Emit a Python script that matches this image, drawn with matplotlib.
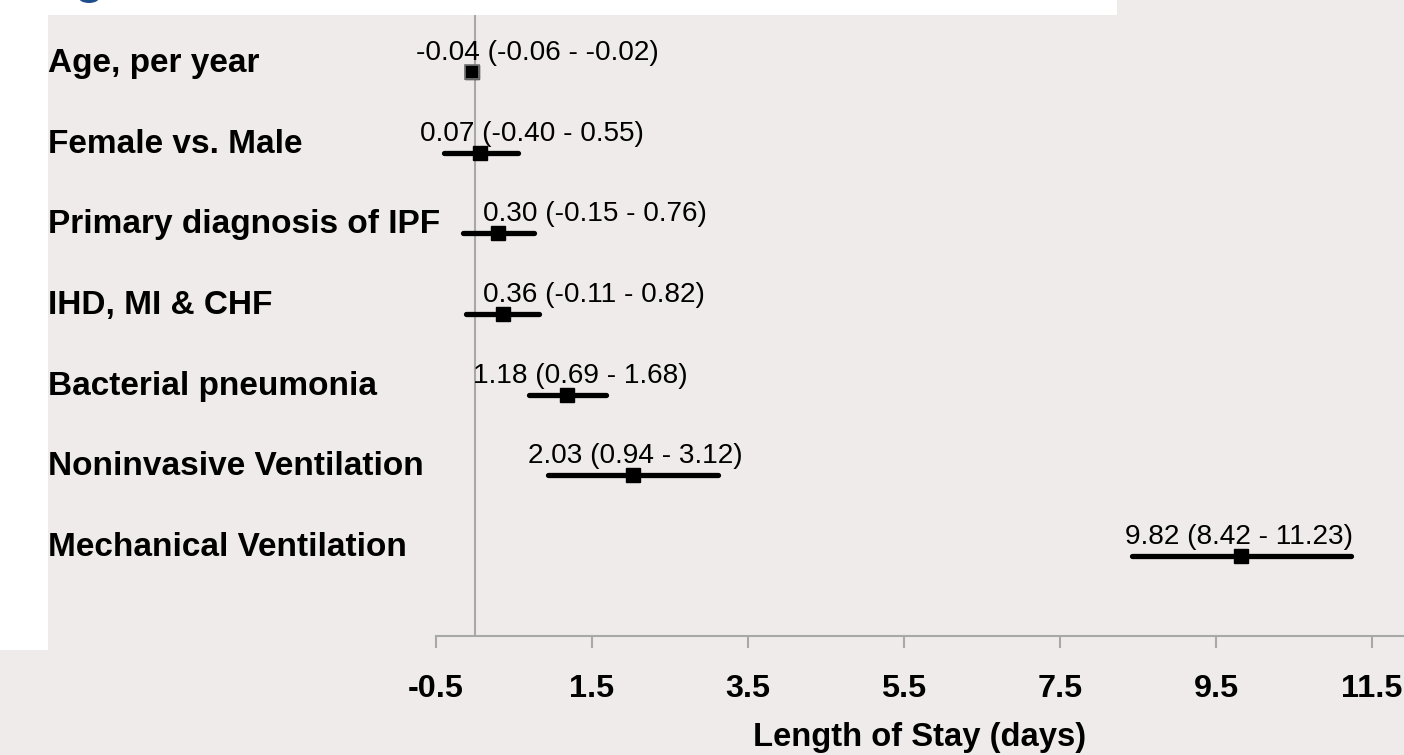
import matplotlib.pyplot as plt
from matplotlib.patches import Rectangle, Ellipse

# forest plot values: estimate with 95% CI
factors = [
    "Age, per year",
    "Female vs. Male",
    "Primary diagnosis of IPF",
    "IHD, MI & CHF",
    "Bacterial pneumonia",
    "Noninvasive Ventilation",
    "Mechanical Ventilation",
]
estimate = [-0.04, 0.07, 0.30, 0.36, 1.18, 2.03, 9.82]
ci_low = [-0.06, -0.40, -0.15, -0.11, 0.69, 0.94, 8.42]
ci_high = [-0.02, 0.55, 0.76, 0.82, 1.68, 3.12, 11.23]
x_ticks = [-0.5, 1.5, 3.5, 5.5, 7.5, 9.5, 11.5]

# where each value label starts (data units), as placed in the original
label_left = [-0.76, -0.71, 0.10, 0.10, -0.03, 0.68, 8.33]

bg = "#EFEBEA"
grey = "#A8A8A8"
font = ["Liberation Sans", "DejaVu Sans"]

W, H = 1404, 755
fig = plt.figure(figsize=(W / 100, H / 100), dpi=100, facecolor=bg)

# axes box in pixels: x-axis from 436 to right edge, baseline at y=636
ax_left, ax_right, ax_bottom = 436, 1404, 636
ax = fig.add_axes([ax_left / W, 1 - ax_bottom / H, (ax_right - ax_left) / W, ax_bottom / H])
ax.set_facecolor(bg)

px_per_unit = 78
ax.set_xlim(-0.5, -0.5 + (ax_right - ax_left) / px_per_unit)
row_step = 80.67
ax.set_ylim((ax_bottom - 72) / row_step, -72 / row_step)

rows = list(range(len(factors)))

ax.axvline(0, color=grey, lw=1.5, zorder=1)

for i in rows:
    ax.plot([ci_low[i], ci_high[i]], [i, i], color="black", lw=3.8,
            solid_capstyle="round", zorder=2)
ax.plot(estimate, rows, "s", color="black", markersize=10.5, zorder=3)
ax.plot(estimate[0], 0, "s", color="black", markersize=10.5,
        markeredgecolor="#777777", markeredgewidth=1.2, zorder=3)

for i in rows:
    txt = f"{estimate[i]:.2f} ({ci_low[i]:.2f} - {ci_high[i]:.2f})"
    ax.annotate(txt, xy=(label_left[i], i), xytext=(0, 8.6), textcoords="offset points",
                ha="left", va="baseline", fontsize=20.2, family=font,
                color="black", zorder=4, annotation_clip=False)
    ax.text((48 - ax_left) / (ax_right - ax_left), i, factors[i],
            transform=ax.get_yaxis_transform(), ha="left", va="baseline",
            fontsize=24, fontweight="bold", family=font, clip_on=False)

for side in ["top", "right", "left"]:
    ax.spines[side].set_visible(False)
ax.spines["bottom"].set_color(grey)
ax.spines["bottom"].set_linewidth(1.5)
ax.set_yticks([])
ax.set_xticks(x_ticks)
ax.set_xticklabels([f"{t:g}" for t in x_ticks], fontsize=23.3, fontweight="bold", family=font)
for lab in ax.get_xticklabels():
    lab.set_verticalalignment("baseline")
ax.tick_params(axis="x", direction="out", length=8.6, width=1.5, color=grey, pad=35.3)

ax.set_xlabel("Length of Stay (days)", fontsize=23.6, fontweight="bold", family=font,
              va="baseline")
ax.xaxis.set_label_coords(0.5, -(746 - ax_bottom) / ax_bottom)

# white frame pieces from the surrounding slide
fig.add_artist(Rectangle((0, 1 - 15 / H), 1117 / W, 15 / H, transform=fig.transFigure,
                         facecolor="white", edgecolor="none", zorder=10))
fig.add_artist(Rectangle((0, 1 - 650 / H), 48 / W, 650 / H, transform=fig.transFigure,
                         facecolor="white", edgecolor="none", zorder=10))
fig.add_artist(Ellipse((89 / W, 1 + 2 / H), 20 / W, 10 / H, transform=fig.transFigure,
                       facecolor="#1F4E8C", edgecolor="none", zorder=11))

fig.savefig("out.png", dpi=100, facecolor=bg)
